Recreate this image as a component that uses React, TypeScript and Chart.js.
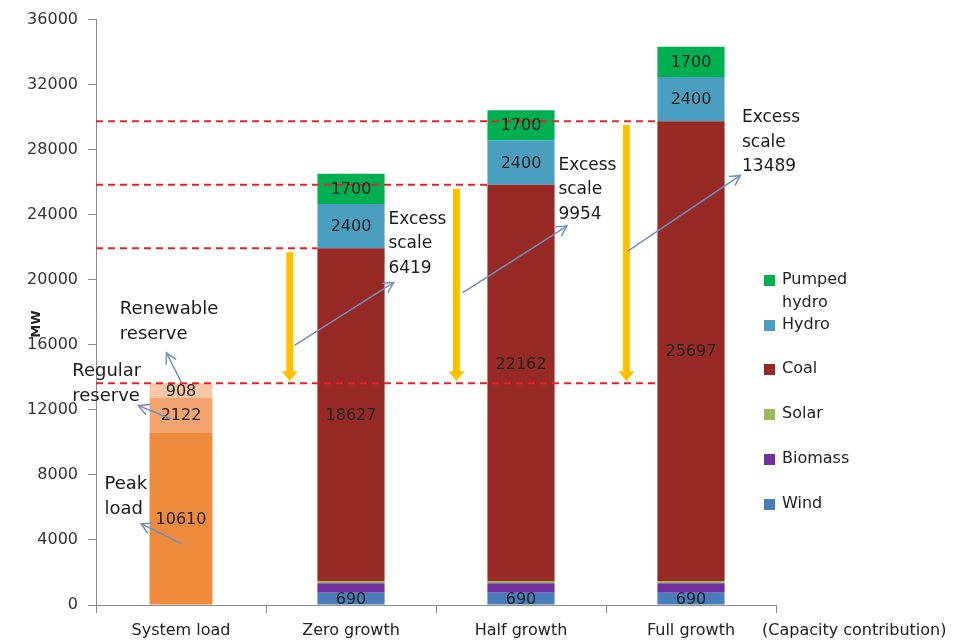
import React, { useEffect, useRef } from "react";
import { Chart, registerables } from "chart.js";

Chart.register(...registerables);

const FONT = "'DejaVu Sans', 'Liberation Sans', sans-serif";

// ---------- data ----------
const categories = ["System load", "Zero growth", "Half growth", "Full growth"];

// system load components (MW)
const peakLoad = [10610, null, null, null];
const regularReserve = [2122, null, null, null];
const renewableReserve = [908, null, null, null];

// generation capacity bars (heights as drawn, MW)
const wind = [null, 760, 760, 760];
const biomass = [null, 570, 570, 570];
const solar = [null, 150, 150, 150];
const coal = [null, 20460, 24370, 28275];
const hydro = [null, 2720, 2720, 2720];
const pumpedHydro = [null, 1860, 1860, 1860];

// printed value labels
const peakLabels = ["10610", "", "", ""];
const regularLabels = ["2122", "", "", ""];
const renewableLabels = ["908", "", "", ""];
const windLabels = ["", "690", "690", "690"];
const coalLabels = ["", "18627", "22162", "25697"];
const hydroLabels = ["", "2400", "2400", "2400"];
const pumpedLabels = ["", "1700", "1700", "1700"];
const excessScale = ["6419", "9954", "13489"];

const yTicksMax = 36000;
const yTickStep = 4000;

// ---------- annotation placement (category offset, value) ----------
const excessText = [
  { cat: 1, dx: 0.22, v: 23730 },
  { cat: 2, dx: 0.22, v: 27030 },
  { cat: 3, dx: 0.3, v: 29960 },
];
const excessArrows = [
  { cat: 1, dx1: -0.33, v1: 15985, dx2: 0.25, v2: 19830 },
  { cat: 2, dx1: -0.34, v1: 19220, dx2: 0.27, v2: 23300 },
  { cat: 3, dx1: -0.37, v1: 21780, dx2: 0.29, v2: 26420 },
];
const yellowArrowDx = [-0.36, -0.38, -0.38];
const loadText = [
  { lines: ["Renewable", "reserve"], dx: -0.36, v: 18180 },
  { lines: ["Regular", "reserve"], dx: -0.64, v: 14400 },
  { lines: ["Peak", "load"], dx: -0.45, v: 7440 },
];
const loadArrows = [
  { dx1: 0.0, v1: 13730, dx2: -0.085, v2: 15500 },
  { dx1: -0.065, v1: 11470, dx2: -0.25, v2: 12260 },
  { dx1: 0.0, v1: 3780, dx2: -0.235, v2: 5000 },
];
// vertical pixel nudge for coal value labels
const coalLabelDy = [0, 0, -19, 0];

const COLORS = {
  peak: "#EE8A3C",
  regular: "#F4A46E",
  renewable: "#F8C8A6",
  wind: "#4A7EBB",
  biomass: "#7030A0",
  solar: "#9BBB59",
  coal: "#982A26",
  hydro: "#4A9FC0",
  pumped: "#00B050",
};

const legendItems = [
  { lines: ["Pumped", "hydro"], color: COLORS.pumped },
  { lines: ["Hydro"], color: COLORS.hydro },
  { lines: ["Coal"], color: COLORS.coal },
  { lines: ["Solar"], color: COLORS.solar },
  { lines: ["Biomass"], color: COLORS.biomass },
  { lines: ["Wind"], color: COLORS.wind },
];

function drawArrow(ctx: CanvasRenderingContext2D, x1: number, y1: number, x2: number, y2: number, color: string, lw: number, head: number) {
  ctx.save();
  ctx.strokeStyle = color;
  ctx.lineWidth = lw;
  ctx.lineCap = "round";
  ctx.beginPath();
  ctx.moveTo(x1, y1);
  ctx.lineTo(x2, y2);
  ctx.stroke();
  const a = Math.atan2(y2 - y1, x2 - x1);
  ctx.beginPath();
  ctx.moveTo(x2 - head * Math.cos(a - 0.5), y2 - head * Math.sin(a - 0.5));
  ctx.lineTo(x2, y2);
  ctx.lineTo(x2 - head * Math.cos(a + 0.5), y2 - head * Math.sin(a + 0.5));
  ctx.stroke();
  ctx.restore();
}

const annotPlugin = {
  id: "annot",
  afterDatasetsDraw(chart: any) {
    const { ctx, chartArea, scales } = chart;
    const x = scales.x;
    const y = scales.y;
    const catW = x.getPixelForValue(1) - x.getPixelForValue(0);
    const cx = (cat: number, dx: number) => x.getPixelForValue(cat) + dx * catW;
    const sumAt = (arrs: any[], j: number) => arrs.reduce((s, a) => s + (a[j] || 0), 0);

    const loadTotal = sumAt([peakLoad, regularReserve, renewableReserve], 0);
    const yLoad = y.getPixelForValue(loadTotal);
    const barLeft = (j: number) => {
      const el = chart.getDatasetMeta(3).data[j];
      return el.x - el.width / 2;
    };

    ctx.save();
    // dashed red lines
    ctx.strokeStyle = "#E8202A";
    ctx.lineWidth = 2;
    ctx.setLineDash([7, 5]);
    for (let j = 1; j <= 3; j++) {
      const top = sumAt([wind, biomass, solar, coal], j);
      const yy = y.getPixelForValue(top);
      ctx.beginPath();
      ctx.moveTo(chartArea.left, yy);
      ctx.lineTo(barLeft(j), yy);
      ctx.stroke();
    }
    ctx.beginPath();
    ctx.moveTo(chartArea.left, yLoad);
    ctx.lineTo(barLeft(3), yLoad);
    ctx.stroke();
    ctx.setLineDash([]);

    // yellow arrows
    for (let j = 1; j <= 3; j++) {
      const top = y.getPixelForValue(sumAt([wind, biomass, solar, coal], j)) + 4;
      const bottom = yLoad - 2;
      const xx = cx(j, yellowArrowDx[j - 1]);
      ctx.fillStyle = "#FFC000";
      ctx.fillRect(xx - 3.5, top, 7, bottom - top - 8);
      ctx.beginPath();
      ctx.moveTo(xx - 8, bottom - 10);
      ctx.lineTo(xx + 8, bottom - 10);
      ctx.lineTo(xx, bottom);
      ctx.closePath();
      ctx.fill();
    }

    // data labels
    ctx.fillStyle = "#222";
    ctx.font = `16px ${FONT}`;
    ctx.textAlign = "center";
    ctx.textBaseline = "middle";
    chart.data.datasets.forEach((ds: any, i: number) => {
      const meta = chart.getDatasetMeta(i);
      const labs = ds.valueLabels;
      if (!labs) return;
      meta.data.forEach((el: any, j: number) => {
        if (!labs[j]) return;
        const dy = ds.label === "Coal" ? coalLabelDy[j] : 0;
        ctx.fillText(labs[j], el.x, (el.y + el.base) / 2 + 1 + dy);
      });
    });

    // blue arrows
    const blue = "#6F8FC0";
    excessArrows.forEach((a) => {
      drawArrow(ctx, cx(a.cat, a.dx1), y.getPixelForValue(a.v1), cx(a.cat, a.dx2), y.getPixelForValue(a.v2), blue, 1.5, 11);
    });
    loadArrows.forEach((a) => {
      drawArrow(ctx, cx(0, a.dx1), y.getPixelForValue(a.v1), cx(0, a.dx2), y.getPixelForValue(a.v2), blue, 1.5, 11);
    });

    // excess texts
    ctx.fillStyle = "#1a1a1a";
    ctx.textAlign = "left";
    ctx.font = `17px ${FONT}`;
    excessText.forEach((t, k) => {
      const xx = cx(t.cat, t.dx);
      const yy = y.getPixelForValue(t.v);
      ["Excess", "scale", excessScale[k]].forEach((s, n) => ctx.fillText(s, xx, yy + n * 24.5));
    });

    // load texts
    ctx.font = `18px ${FONT}`;
    loadText.forEach((t) => {
      const xx = cx(0, t.dx);
      const yy = y.getPixelForValue(t.v);
      t.lines.forEach((s, n) => ctx.fillText(s, xx, yy + n * 25));
    });

    // y axis title
    ctx.save();
    ctx.translate(chartArea.left - 59, y.getPixelForValue(17270));
    ctx.rotate(-Math.PI / 2);
    ctx.font = `bold 13px ${FONT}`;
    ctx.textAlign = "center";
    ctx.fillStyle = "#222";
    ctx.fillText("MW", 0, 0);
    ctx.restore();

    // capacity contribution note
    ctx.font = `16px ${FONT}`;
    ctx.fillStyle = "#222";
    ctx.textAlign = "left";
    ctx.fillText("(Capacity contribution)", chartArea.right - 14, chartArea.bottom + 26);

    // legend
    ctx.font = `16px ${FONT}`;
    let ly = 280;
    const gaps = [45, 44, 45, 45, 45, 45];
    legendItems.forEach((it, k) => {
      ctx.fillStyle = it.color;
      ctx.fillRect(764, ly - 5, 11, 11);
      ctx.fillStyle = "#222";
      it.lines.forEach((s, n) => ctx.fillText(s, 782, ly + n * 23));
      ly += gaps[k];
    });
    ctx.restore();
  },
};

export default function App() {
  const ref = useRef<HTMLCanvasElement>(null);
  useEffect(() => {
    if (!ref.current) return;
    const mk = (label: string, data: any[], color: string, labels: string[] | null, bp: number) => ({
      label,
      data,
      backgroundColor: color,
      stack: "s",
      barPercentage: bp,
      categoryPercentage: 1,
      valueLabels: labels,
      borderWidth: 0,
    });
    const datasets: any[] = [
      mk("Peak load", peakLoad, COLORS.peak, peakLabels, 0.37),
      mk("Regular reserve", regularReserve, COLORS.regular, regularLabels, 0.37),
      mk("Renewable reserve", renewableReserve, COLORS.renewable, renewableLabels, 0.37),
      mk("Wind", wind, COLORS.wind, windLabels, 0.395),
      mk("Biomass", biomass, COLORS.biomass, null, 0.395),
      mk("Solar", solar, COLORS.solar, null, 0.395),
      mk("Coal", coal, COLORS.coal, coalLabels, 0.395),
      mk("Hydro", hydro, COLORS.hydro, hydroLabels, 0.395),
      mk("Pumped hydro", pumpedHydro, COLORS.pumped, pumpedLabels, 0.395),
    ];
    const chart = new Chart(ref.current, {
      type: "bar",
      data: { labels: categories, datasets },
      options: {
        responsive: false,
        animation: false,
        layout: { padding: { top: 15, right: 177, left: 0, bottom: 0 } },
        plugins: { legend: { display: false }, tooltip: { enabled: false } },
        scales: {
          x: {
            stacked: true,
            ticks: { font: { family: FONT, size: 16 }, color: "#222", padding: 8 },
            grid: { display: true, drawOnChartArea: false, drawTicks: true, tickLength: 8, offset: true, color: "#8c8c8c" },
            border: { display: true, color: "#8c8c8c" },
            afterFit: (s: any) => { s.height = 35; },
          },
          y: {
            stacked: true,
            min: 0,
            max: yTicksMax,
            ticks: {
              stepSize: yTickStep,
              font: { family: FONT, size: 16 },
              color: "#333",
              padding: 10,
              callback: (v: any) => String(v),
            },
            grid: { display: true, drawOnChartArea: false, drawTicks: true, tickLength: 8, color: "#8c8c8c" },
            border: { display: true, color: "#8c8c8c" },
            afterFit: (s: any) => { s.width = 96; },
          },
        },
      } as any,
      plugins: [annotPlugin],
    });
    return () => chart.destroy();
  }, []);
  return (
    <div style={{ position: "fixed", left: 0, top: 0, width: 953, height: 640, background: "#fff" }}>
      <canvas ref={ref} width={953} height={640} />
    </div>
  );
}
